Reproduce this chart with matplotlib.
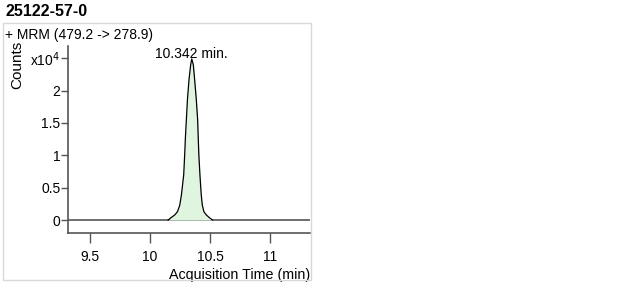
import matplotlib.pyplot as plt
from matplotlib.patches import Rectangle
import numpy as np

plt.rcParams['font.family'] = ['Liberation Sans', 'DejaVu Sans']

# --- Data (counts in units of 1e4) ---
time_min = [9.317, 10.100, 10.151, 10.174, 10.207, 10.229, 10.248, 10.262, 10.281,
            10.289, 10.295, 10.303, 10.312, 10.325, 10.339, 10.348,
            10.361, 10.372, 10.386, 10.397, 10.402, 10.407, 10.416, 10.427,
            10.436, 10.449, 10.469, 10.496, 10.521, 10.600, 11.333]
counts_e4 = [0.0, 0.0, 0.0, 0.035, 0.08, 0.13, 0.23, 0.39, 0.70,
             1.01, 1.27, 1.55, 1.86, 2.17, 2.40, 2.49,
             2.40, 2.17, 1.86, 1.55, 1.27, 1.01, 0.70, 0.39,
             0.23, 0.13, 0.08, 0.035, 0.0, 0.0, 0.0]
peak_label = '10.342 min.'
peak_start, peak_end = 10.151, 10.521

x_ticks = [9.5, 10, 10.5, 11]
x_ticklabels = ['9.5', '10', '10.5', '11']
y_ticks = [0, 0.5, 1, 1.5, 2, 2.5]
y_ticklabels = ['0', '0.5', '1', '1.5', '2', 'x10$^4$']

W, H = 631, 289
fig = plt.figure(figsize=(W / 100, H / 100), dpi=100)

# outer panel frame
fig.patches.append(Rectangle((3 / W, 1 - 280 / H), 308 / W, 257 / H,
                             transform=fig.transFigure, fill=False,
                             edgecolor='#d8d8d8', linewidth=1))

ax = fig.add_axes((68 / W, 1 - 233 / H, 242 / W, 187 / H))

t = np.array(time_min)
c = np.array(counts_e4)
ax.axhline(0, color='#555555', linewidth=1.2, zorder=1)
mask = (t >= peak_start) & (t <= peak_end)
ax.fill_between(t[mask], c[mask], 0, color='#e0f5e0', zorder=2, linewidth=0)
ax.plot(t[mask], c[mask], color='black', linewidth=0.9, zorder=3)

ax.set_xlim(9.317, 11.333)
ax.set_ylim(-0.2, 2.69)
ax.set_xticks(x_ticks)
ax.set_xticklabels(x_ticklabels)
ax.set_yticks(y_ticks)
ax.set_yticklabels(y_ticklabels)

for side in ['top', 'right']:
    ax.spines[side].set_visible(False)
for side in ['left', 'bottom']:
    ax.spines[side].set_color('#555555')
    ax.spines[side].set_linewidth(1.2)
ax.tick_params(axis='y', direction='out', length=5, width=1,
               color='#555555', labelsize=10, pad=0.5)
ax.tick_params(axis='x', direction='out', length=7, width=1,
               color='#555555', labelsize=10, pad=5)

# peak annotation, centred on the apex
apex = int(np.argmax(c))
ax.text(t[apex], 2.57, peak_label, ha='center', va='center', fontsize=10)
ax.set_xlabel('Acquisition Time (min)', fontsize=10.3, labelpad=3, loc='right')

fig.text(17.5 / W, 1 - 65 / H, 'Counts', rotation=90, ha='center', va='center', fontsize=11)
fig.text(5 / W, 1 - 35 / H, '+ MRM (479.2 -> 278.9)', ha='left', va='center', fontsize=10)
fig.text(5 / W, 1 - 11 / H, '25122-57-0', ha='left', va='center', fontsize=11.5,
         fontweight='bold')

fig.savefig('out.png', dpi=100)
